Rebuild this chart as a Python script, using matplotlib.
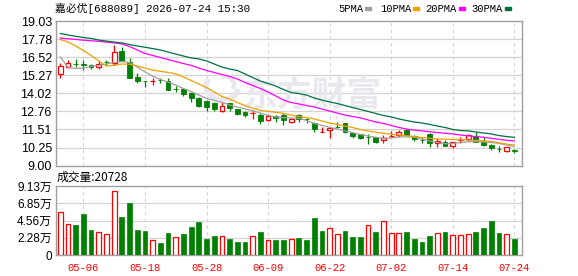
import matplotlib
matplotlib.use("Agg")
import matplotlib.pyplot as plt
from matplotlib.patches import Rectangle, Arc

# daily candles, 60 sessions ending 2026-07-24
open_ = [15.38, 15.82, 16.06, 16.02, 15.95, 15.82, 16.18, 16.10, 16.97, 16.19,
         15.15, 14.88, 14.86, 14.96, 14.89, 14.33, 14.32, 14.02, 13.71, 13.49,
         13.32, 12.79, 13.33, 12.91, 12.70, 12.65, 12.51, 12.17, 12.42, 12.51,
         12.05, 12.51, 12.23, 11.96, 11.34, 11.45, 11.67, 11.94, 11.29, 11.18,
         11.02, 10.97, 10.76, 11.05, 11.13, 11.47, 11.06, 10.79, 11.20, 10.55,
         10.62, 10.37, 10.77, 10.87, 11.06, 10.64, 10.46, 10.17, 10.00, 10.10]
close = [15.89, 16.10, 16.04, 16.00, 15.82, 16.05, 16.16, 16.88, 16.28, 15.08,
         14.89, 14.85, 14.90, 14.94, 14.27, 14.31, 13.95, 13.71, 13.16, 13.09,
         12.93, 13.16, 12.98, 12.58, 12.51, 12.68, 12.10, 12.45, 12.32, 12.17,
         12.22, 12.22, 12.21, 11.52, 11.37, 11.61, 11.65, 11.36, 11.08, 10.90,
         11.00, 10.66, 10.94, 11.08, 11.36, 11.13, 10.83, 10.77, 10.55, 10.71,
         10.39, 10.62, 10.80, 11.13, 10.66, 10.46, 10.25, 10.15, 10.30, 10.04]
high = [16.12, 16.33, 16.40, 16.33, 16.08, 16.24, 16.35, 17.35, 17.21, 16.47,
        15.43, 14.89, 15.06, 15.10, 15.08, 14.52, 14.37, 14.13, 13.78, 13.53,
        13.44, 13.40, 13.37, 12.95, 12.81, 12.86, 12.63, 12.58, 12.51, 12.63,
        12.29, 12.56, 12.29, 12.01, 11.66, 11.66, 12.01, 11.94, 11.36, 11.22,
        11.18, 11.01, 11.13, 11.43, 11.47, 11.54, 11.13, 10.97, 11.29, 10.90,
        10.78, 10.66, 11.01, 11.20, 11.34, 10.97, 10.50, 10.37, 10.32, 10.16]
low = [15.07, 15.75, 15.86, 15.63, 15.70, 15.68, 15.96, 16.00, 16.24, 15.08,
       14.73, 14.48, 14.62, 14.71, 14.27, 14.13, 13.83, 13.44, 13.09, 12.81,
       12.79, 12.74, 12.79, 12.51, 12.35, 12.26, 11.89, 12.12, 12.01, 11.80,
       11.96, 12.05, 11.96, 11.36, 11.32, 10.90, 11.59, 11.25, 10.90, 10.83,
       10.48, 10.59, 10.55, 10.97, 10.97, 11.06, 10.71, 10.55, 10.28, 10.28,
       10.37, 10.21, 10.60, 10.73, 10.62, 10.37, 10.07, 9.95, 9.97, 9.90]

ma5 = [16.54, 15.81, 15.74, 15.77, 15.89, 15.95, 16.05, 16.15, 16.22, 16.15,
       15.84, 15.50, 15.20, 14.98, 14.80, 14.59, 14.35, 14.14, 13.90, 13.67,
       13.52, 13.39, 13.21, 13.07, 12.94, 12.81, 12.65, 12.48, 12.38, 12.33,
       12.31, 12.29, 12.13, 11.93, 11.79, 11.66, 11.54, 11.41, 11.29, 11.16,
       11.06, 10.97, 10.90, 10.92, 10.99, 11.00, 10.97, 10.85, 10.71, 10.61,
       10.52, 10.54, 10.61, 10.66, 10.66, 10.66, 10.61, 10.55, 10.43, 10.33]
ma10 = [17.75, 17.57, 17.30, 16.99, 16.64, 16.26, 15.91, 15.95, 16.05, 16.03,
        15.91, 15.77, 15.63, 15.54, 15.47, 15.36, 15.15, 14.91, 14.66, 14.42,
        14.11, 13.80, 13.62, 13.38, 13.17, 12.98, 12.84, 12.77, 12.70, 12.63,
        12.51, 12.41, 12.34, 12.24, 12.10, 11.96, 11.86, 11.75, 11.65, 11.51,
        11.41, 11.32, 11.25, 11.18, 11.13, 11.08, 11.02, 10.95, 10.90, 10.86,
        10.83, 10.82, 10.80, 10.78, 10.76, 10.73, 10.68, 10.59, 10.50, 10.43]
ma20 = [17.85, 17.80, 17.75, 17.70, 17.66, 17.62, 17.57, 17.51, 17.44, 17.26,
        17.02, 16.78, 16.64, 16.50, 16.36, 16.22, 16.08, 15.95, 15.77, 15.60,
        15.46, 15.32, 15.18, 15.01, 14.77, 14.56, 14.35, 14.11, 13.83, 13.55,
        13.38, 13.28, 13.17, 13.07, 12.93, 12.79, 12.65, 12.51, 12.41, 12.31,
        12.17, 12.03, 11.93, 11.79, 11.65, 11.54, 11.47, 11.41, 11.35, 11.30,
        11.25, 11.20, 11.13, 11.07, 11.02, 10.97, 10.90, 10.83, 10.76, 10.71]
ma30 = [18.16, 18.06, 17.97, 17.89, 17.82, 17.71, 17.64, 17.57, 17.51, 17.40,
        17.30, 17.21, 17.12, 17.02, 16.88, 16.74, 16.60, 16.47, 16.40, 16.26,
        16.05, 15.84, 15.70, 15.60, 15.36, 15.11, 14.87, 14.70, 14.52, 14.28,
        14.07, 14.00, 13.90, 13.69, 13.55, 13.42, 13.31, 13.17, 13.03, 12.90,
        12.76, 12.62, 12.48, 12.38, 12.24, 12.13, 12.03, 11.96, 11.86, 11.75,
        11.65, 11.51, 11.44, 11.41, 11.34, 11.27, 11.20, 11.09, 11.02, 10.97]

volume = [56500, 40600, 39700, 54200, 33100, 30000, 27400, 84700, 50300, 68800,
          33100, 31800, 19400, 16300, 29100, 23400, 27800, 37000, 43700, 21200,
          25100, 24700, 21200, 17200, 17200, 24700, 30400, 19800, 19800, 19800,
          20700, 22000, 19800, 48500, 31800, 35300, 27400, 31800, 23400, 23400,
          39300, 30400, 44600, 28700, 28700, 30400, 20700, 17200, 25100, 28700,
          30400, 26000, 26000, 27400, 30400, 35700, 45000, 29100, 27400, 20728]
vol_up = [1, 1, 0, 0, 0, 1, 1, 1, 0, 0,
          0, 0, 1, 0, 0, 1, 0, 0, 0, 0,
          0, 1, 0, 0, 0, 1, 0, 1, 0, 0,
          1, 0, 0, 0, 0, 1, 1, 0, 0, 0,
          1, 0, 1, 1, 1, 0, 0, 0, 0, 1,
          0, 1, 1, 1, 0, 0, 0, 0, 1, 0]

price_ticks = [9.00, 10.25, 11.51, 12.76, 14.02, 15.27, 16.52, 17.78, 19.03]
vol_ticks = [0, 22800, 45600, 68500, 91300]
vol_labels = ["0", "2.28万", "4.56万", "6.85万", "9.13万"]
date_idx = [3, 11, 19, 27, 35, 43, 51, 59]
date_labels = ["05-06", "05-18", "05-28", "06-09", "06-22", "07-02", "07-14", "07-24"]

UP = "#ff0000"
DOWN = "#008000"
FRAME = "#a0a0a0"
GRID = "#d4d4d4"
WATER = "#e8e8ee"
MA_COLORS = ["#a0a0a0", "#f0a000", "#ff00ff", "#007040"]
MONO = ["Liberation Mono", "Noto Sans CJK SC"]
SANS = ["Liberation Sans", "Noto Sans CJK SC"]

W, H = 578, 276
fig = plt.figure(figsize=(W / 100, H / 100), dpi=100)


def fx(px):
    return px / W


def fy(py):
    return 1 - py / H


ax = fig.add_axes([fx(56), fy(165.7), fx(466), 144.7 / H])
axv = fig.add_axes([fx(56), fy(255), fx(466), 69 / H])

n = len(close)
xs = list(range(n))
bw = 0.62

for a in (ax, axv):
    a.set_xlim(-0.56, n)
    for s in a.spines.values():
        s.set_color(FRAME)
        s.set_linewidth(1)
    for i in date_idx:
        a.axvline(i, color=GRID, lw=0.8, ls=(0, (3, 3)), zorder=0)
    a.tick_params(length=0)
    a.set_xticks([])

# price panel
ax.set_ylim(price_ticks[0], price_ticks[-1])
ax.set_yticks(price_ticks)
ax.set_yticklabels([f"{t:.2f}" for t in price_ticks], family=SANS, fontsize=9)
ax.tick_params(axis="y", pad=3)
for t in price_ticks[1:-1]:
    ax.axhline(t, color=GRID, lw=0.9, zorder=0)

# watermark: swirl logo + brand name
ax.add_patch(Arc((0.357, 0.55), 0.07, 0.19, theta1=120, theta2=330,
                 transform=ax.transAxes, color=WATER, lw=4, zorder=0.5))
ax.add_patch(Arc((0.362, 0.56), 0.04, 0.11, theta1=300, theta2=100,
                 transform=ax.transAxes, color=WATER, lw=3, zorder=0.5))
ax.text(0.55, 0.49, "东方财富", transform=ax.transAxes, fontsize=25,
        family=["Noto Sans CJK SC"], fontweight="bold", color=WATER,
        ha="center", va="center", zorder=0.5)

for i in xs:
    o, c, h, l = open_[i], close[i], high[i], low[i]
    col = UP if c >= o else DOWN
    ax.vlines(i, l, h, color=col, lw=0.9, zorder=2)
    bottom = min(o, c)
    height = max(abs(c - o), 0.01)
    if c >= o:
        ax.add_patch(Rectangle((i - bw / 2, bottom), bw, height, facecolor="white",
                               edgecolor=col, lw=0.9, zorder=3))
    else:
        ax.add_patch(Rectangle((i - bw / 2, bottom), bw, height, facecolor=col,
                               edgecolor=col, lw=0.6, zorder=3))

for ma, col in zip([ma5, ma10, ma20, ma30], MA_COLORS):
    ax.plot(xs, ma, color=col, lw=0.9, zorder=4)

# volume panel
axv.set_ylim(0, vol_ticks[-1])
axv.set_yticks(vol_ticks)
axv.set_yticklabels(vol_labels, family=SANS, fontsize=8.5)
axv.tick_params(axis="y", pad=3)
for t in vol_ticks[1:-1]:
    axv.axhline(t, color=GRID, lw=0.9, zorder=0)
for i in xs:
    if vol_up[i]:
        axv.add_patch(Rectangle((i - bw / 2, 0), bw, volume[i], facecolor="white",
                                edgecolor=UP, lw=0.9, zorder=3))
    else:
        axv.add_patch(Rectangle((i - bw / 2, 0), bw, volume[i], facecolor=DOWN,
                                edgecolor=DOWN, lw=0.5, zorder=3))

for i, lab in zip(date_idx, date_labels):
    axv.text(i, -0.12, lab, transform=axv.get_xaxis_transform(), ha="center",
             va="top", color=UP, family=MONO, fontsize=7.6)

# header texts
fig.text(fx(55), fy(8), "嘉必优[688089] 2026-07-24 15:30", family=MONO,
         fontsize=7.8, va="center", ha="left")
fig.text(fx(57), fy(177), "成交量:20728", family=["Noto Sans CJK SC"],
         fontsize=8.5, va="center", ha="left")

legend_items = [("5PMA", 338.3), ("10PMA", 380), ("20PMA", 425.7), ("30PMA", 471.7)]
rect_x = [365.3, 413.3, 459.3, 505.3]
for (lab, x0), rx, col in zip(legend_items, rect_x, MA_COLORS):
    fig.text(fx(x0), fy(9), lab, family=MONO, fontsize=7.6, va="center", ha="left")
    fig.patches.append(Rectangle((fx(rx), fy(10)), fx(5.4), 2.6 / H, color=col,
                                 transform=fig.transFigure, figure=fig))

fig.savefig("out.png", dpi=100)
